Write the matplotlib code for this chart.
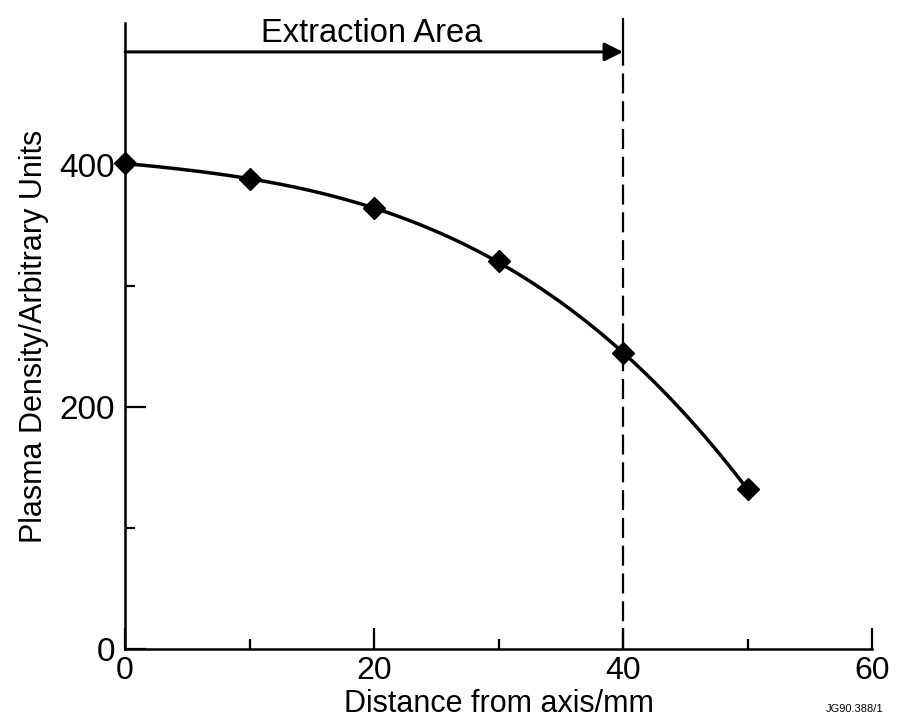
import numpy as np
import matplotlib
matplotlib.use("Agg")
import matplotlib.pyplot as plt

# measured values
distance_mm = [0, 10, 20, 30, 40, 50]
density = [401, 388, 364, 320, 244, 132]
x_ticks = [0, 20, 40, 60]
x_minor = [10, 30, 50]
y_ticks = [0, 200, 400]
y_minor = [100, 300]
extraction_edge = 40
arrow_level = 493

plt.rcParams["font.family"] = ["Liberation Sans", "DejaVu Sans"]

fig = plt.figure(figsize=(8.97, 7.23), dpi=100)
ax = fig.add_axes([0.1394, 0.1024, 0.8328, 0.866])

# smooth curve through the points
coef = np.polyfit(distance_mm, density, 3)
xs = np.linspace(distance_mm[0], distance_mm[-1], 200)
ax.plot(xs, np.polyval(coef, xs), color="black", lw=2.5, zorder=3)
ax.plot(distance_mm, density, linestyle="none", marker="D", ms=11.5,
        color="black", zorder=4, clip_on=False)

# extraction area boundary + arrow
ax.plot([extraction_edge, extraction_edge], [0, arrow_level - 10], color="black",
        lw=1.6, dashes=(9, 3.5), zorder=2)
ax.plot([extraction_edge, extraction_edge], [arrow_level - 10, 520], color="black",
        lw=1.6, zorder=2, clip_on=False)
ax.annotate("", xy=(extraction_edge, arrow_level), xytext=(0, arrow_level),
            arrowprops=dict(arrowstyle="-|>", lw=2.2, color="black",
                            mutation_scale=28, shrinkA=0, shrinkB=0))
ax.text(19.8, 501, "Extraction Area", ha="center", va="baseline", fontsize=23.5)

ax.set_xlim(0, 60)
ax.set_ylim(0, 517)
ax.set_xticks(x_ticks)
ax.set_xticks(x_minor, minor=True)
ax.set_yticks(y_ticks)
ax.set_yticks(y_minor, minor=True)
ax.tick_params(which="major", direction="in", length=15, width=1.6)
ax.tick_params(axis="x", which="major", labelsize=23, pad=5)
ax.tick_params(axis="y", which="major", labelsize=24, pad=7)
ax.tick_params(which="minor", direction="in", length=7, width=1.6)

for side in ["top", "right"]:
    ax.spines[side].set_visible(False)
for side in ["left", "bottom"]:
    ax.spines[side].set_linewidth(1.8)

ax.set_xlabel("Distance from axis/mm", fontsize=22, labelpad=2)
ax.set_ylabel("Plasma Density/Arbitrary Units", fontsize=22, labelpad=8)

fig.text(0.985, 0.012, "JG90.388/1", ha="right", va="bottom", fontsize=8)

fig.savefig("out.png", dpi=100)
